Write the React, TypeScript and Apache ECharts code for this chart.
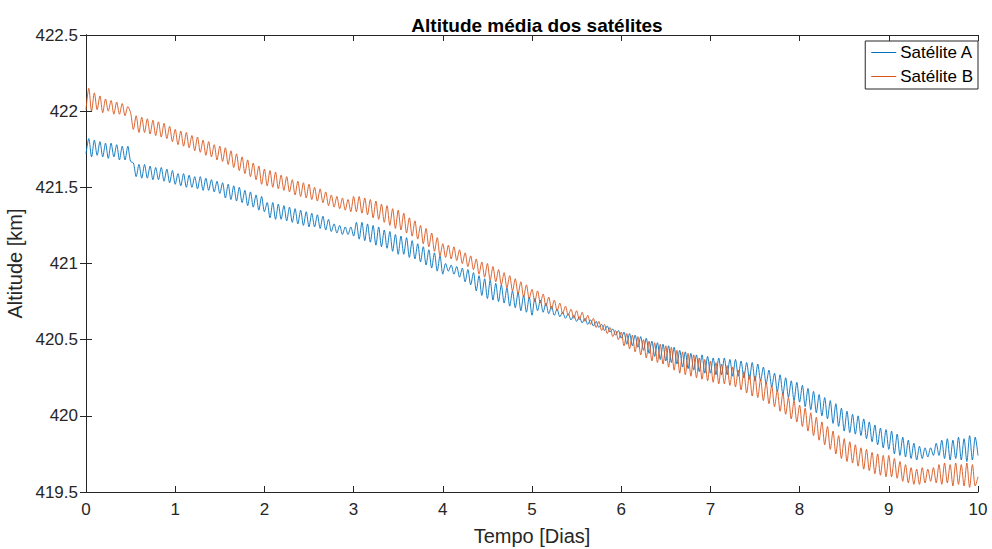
import React, { useEffect, useRef } from "react";
import * as echarts from "echarts";

// Sampling step of the series (days)
const T_STEP = 1 / 32;

const xTicks = [0, 1, 2, 3, 4, 5, 6, 7, 8, 9, 10];
const yTicks = [419.5, 420, 420.5, 421, 421.5, 422, 422.5];

// Satélite A, rows of half a day
const satA: number[] = [
  421.72, 421.82, 421.70, 421.81, 421.71, 421.80, 421.70, 421.79, 421.69, 421.79, 421.70, 421.78, 421.68, 421.77, 421.68, 421.77,
  421.67, 421.66, 421.57, 421.65, 421.56, 421.65, 421.56, 421.64, 421.55, 421.63, 421.55, 421.63, 421.54, 421.62, 421.53, 421.61,
  421.52, 421.59, 421.51, 421.59, 421.50, 421.58, 421.50, 421.57, 421.49, 421.57, 421.48, 421.56, 421.48, 421.55, 421.47, 421.54,
  421.46, 421.53, 421.43, 421.52, 421.42, 421.51, 421.41, 421.50, 421.40, 421.48, 421.38, 421.47, 421.37, 421.45, 421.35, 421.44,
  421.34, 421.40, 421.30, 421.40, 421.29, 421.39, 421.29, 421.38, 421.28, 421.37, 421.27, 421.36, 421.26, 421.35, 421.25, 421.34,
  421.24, 421.33, 421.24, 421.32, 421.23, 421.31, 421.22, 421.29, 421.21, 421.26, 421.20, 421.25, 421.19, 421.24, 421.19, 421.24,
  421.18, 421.27, 421.16, 421.27, 421.15, 421.26, 421.14, 421.25, 421.12, 421.24, 421.11, 421.22, 421.10, 421.21, 421.08, 421.19,
  421.06, 421.18, 421.06, 421.17, 421.04, 421.15, 421.03, 421.13, 421.01, 421.11, 420.99, 421.09, 420.97, 421.07, 420.95, 421.05,
  420.93, 421.00, 420.95, 420.99, 420.93, 420.98, 420.91, 420.97, 420.88, 420.96, 420.86, 420.94, 420.82, 420.92, 420.79, 420.90,
  420.77, 420.89, 420.76, 420.87, 420.75, 420.86, 420.74, 420.84, 420.72, 420.82, 420.71, 420.81, 420.69, 420.79, 420.68, 420.78,
  420.66, 420.77, 420.69, 420.76, 420.68, 420.74, 420.67, 420.72, 420.66, 420.70, 420.65, 420.68, 420.64, 420.67, 420.63, 420.66,
  420.62, 420.65, 420.61, 420.64, 420.60, 420.63, 420.59, 420.62, 420.58, 420.60, 420.56, 420.59, 420.55, 420.57, 420.53, 420.56,
  420.51, 420.55, 420.47, 420.54, 420.46, 420.53, 420.45, 420.52, 420.43, 420.51, 420.41, 420.49, 420.39, 420.48, 420.37, 420.47,
  420.36, 420.46, 420.35, 420.45, 420.34, 420.43, 420.32, 420.42, 420.31, 420.41, 420.30, 420.40, 420.29, 420.40, 420.28, 420.39,
  420.28, 420.38, 420.27, 420.38, 420.27, 420.38, 420.27, 420.37, 420.26, 420.37, 420.26, 420.36, 420.25, 420.35, 420.24, 420.35,
  420.23, 420.34, 420.23, 420.32, 420.21, 420.30, 420.19, 420.28, 420.16, 420.27, 420.14, 420.25, 420.12, 420.23, 420.10, 420.22,
  420.09, 420.20, 420.06, 420.18, 420.04, 420.16, 420.02, 420.14, 420.00, 420.12, 419.98, 420.10, 419.95, 420.08, 419.93, 420.05,
  419.90, 420.03, 419.89, 420.01, 419.88, 420.00, 419.87, 419.98, 419.85, 419.96, 419.83, 419.94, 419.81, 419.92, 419.79, 419.91,
  419.78, 419.90, 419.75, 419.88, 419.74, 419.86, 419.73, 419.84, 419.72, 419.82, 419.71, 419.80, 419.72, 419.79, 419.73, 419.79,
  419.74, 419.82, 419.74, 419.84, 419.72, 419.85, 419.71, 419.84, 419.72, 419.86, 419.71, 419.85, 419.70, 419.87, 419.71, 419.86,
  419.74,
];

// Satélite B, rows of half a day
const satB: number[] = [
  422.01, 422.15, 422.00, 422.12, 422.01, 422.10, 421.99, 422.08, 422.00, 422.07, 421.98, 422.06, 421.98, 422.05, 421.97, 422.03,
  421.99, 421.88, 421.97, 421.86, 421.96, 421.86, 421.95, 421.85, 421.94, 421.84, 421.93, 421.83, 421.92, 421.82, 421.90, 421.80,
  421.88, 421.78, 421.87, 421.77, 421.86, 421.76, 421.84, 421.74, 421.83, 421.73, 421.81, 421.71, 421.80, 421.70, 421.78, 421.68,
  421.77, 421.67, 421.76, 421.65, 421.74, 421.63, 421.72, 421.61, 421.70, 421.59, 421.68, 421.57, 421.66, 421.55, 421.64, 421.52,
  421.62, 421.51, 421.61, 421.50, 421.60, 421.49, 421.58, 421.48, 421.57, 421.47, 421.55, 421.45, 421.54, 421.44, 421.53, 421.43,
  421.52, 421.42, 421.50, 421.41, 421.49, 421.40, 421.47, 421.38, 421.45, 421.37, 421.44, 421.36, 421.43, 421.35, 421.42, 421.34,
  421.44, 421.34, 421.44, 421.33, 421.43, 421.32, 421.42, 421.30, 421.41, 421.29, 421.39, 421.27, 421.38, 421.25, 421.36, 421.23,
  421.35, 421.22, 421.33, 421.20, 421.30, 421.18, 421.28, 421.16, 421.25, 421.13, 421.23, 421.11, 421.20, 421.08, 421.17, 421.05,
  421.13, 421.04, 421.12, 421.03, 421.11, 421.02, 421.09, 421.00, 421.07, 420.98, 421.05, 420.96, 421.03, 420.93, 421.01, 420.91,
  421.00, 420.89, 420.98, 420.88, 420.96, 420.86, 420.94, 420.84, 420.92, 420.82, 420.90, 420.80, 420.88, 420.78, 420.86, 420.77,
  420.83, 420.75, 420.82, 420.74, 420.80, 420.72, 420.78, 420.70, 420.76, 420.69, 420.74, 420.67, 420.72, 420.66, 420.70, 420.64,
  420.69, 420.63, 420.68, 420.62, 420.66, 420.60, 420.64, 420.58, 420.62, 420.56, 420.60, 420.54, 420.58, 420.52, 420.56, 420.50,
  420.55, 420.46, 420.54, 420.44, 420.53, 420.42, 420.52, 420.40, 420.50, 420.38, 420.49, 420.36, 420.48, 420.35, 420.47, 420.34,
  420.46, 420.32, 420.45, 420.30, 420.43, 420.28, 420.42, 420.27, 420.41, 420.26, 420.40, 420.25, 420.38, 420.24, 420.37, 420.23,
  420.36, 420.22, 420.35, 420.21, 420.34, 420.21, 420.33, 420.20, 420.32, 420.19, 420.30, 420.17, 420.29, 420.15, 420.27, 420.13,
  420.26, 420.12, 420.24, 420.10, 420.22, 420.08, 420.20, 420.06, 420.17, 420.03, 420.15, 420.01, 420.12, 419.98, 420.10, 419.96,
  420.07, 419.93, 420.05, 419.90, 420.02, 419.87, 419.99, 419.84, 419.96, 419.81, 419.93, 419.78, 419.90, 419.75, 419.87, 419.72,
  419.85, 419.70, 419.83, 419.69, 419.81, 419.67, 419.79, 419.65, 419.78, 419.64, 419.76, 419.62, 419.75, 419.61, 419.74, 419.60,
  419.74, 419.60, 419.72, 419.59, 419.70, 419.57, 419.68, 419.56, 419.66, 419.55, 419.65, 419.55, 419.66, 419.56, 419.65, 419.57,
  419.66, 419.56, 419.68, 419.55, 419.69, 419.56, 419.68, 419.54, 419.69, 419.55, 419.68, 419.54, 419.69, 419.53, 419.68, 419.54,
  419.60,
];

const FONT = "'Liberation Sans', Arial, Helvetica, sans-serif";
const AXIS_COLOR = "#262626";
const BOX_COLOR = "#262626";

export default function App() {
  const ref = useRef<HTMLDivElement>(null);

  useEffect(() => {
    if (!ref.current) return;
    const chart = echarts.init(ref.current, undefined, { renderer: "svg" });
    const toPairs = (arr: number[]) => arr.map((v, i) => [i * T_STEP, v]);

    const axisCommon = {
      axisLine: { show: true, lineStyle: { color: BOX_COLOR, width: 1 } },
      axisTick: { show: true, inside: true, length: 6, lineStyle: { color: BOX_COLOR } },
      splitLine: { show: false },
    };

    chart.setOption({
      animation: false,
      backgroundColor: "#ffffff",
      title: {
        text: "Altitude média dos satélites",
        left: 532,
        textAlign: "center",
        top: 11,
        textStyle: { fontFamily: FONT, fontSize: 19, fontWeight: "bold", color: "#000" },
      },
      legend: {
        right: 14,
        top: 41,
        orient: "vertical",
        itemWidth: 25,
        itemHeight: 1,
        itemGap: 7,
        icon: "rect",
        padding: [3, 5, 4, 6],
        backgroundColor: "#ffffff",
        borderColor: "#262626",
        borderWidth: 1,
        borderRadius: 0,
        textStyle: { fontFamily: FONT, fontSize: 17, color: "#000", padding: [0, 0, 0, -1] },
        data: ["Satélite A", "Satélite B"],
      },
      grid: { left: 86, right: 14, top: 35, bottom: 57, containLabel: false, outerBoundsMode: "none" },
      xAxis: [
        {
          type: "value",
          min: 0,
          max: 10,
          interval: 1,
          name: "Tempo [Dias]",
          nameLocation: "middle",
          nameGap: 34,
          nameTextStyle: { fontFamily: FONT, fontSize: 20, color: AXIS_COLOR },
          axisLabel: {
            fontFamily: FONT,
            fontSize: 17,
            color: AXIS_COLOR,
            margin: 9,
            formatter: (v: number) => (xTicks.includes(v) ? String(v) : ""),
          },
          ...axisCommon,
        },
        {
          type: "value",
          position: "top",
          min: 0,
          max: 10,
          interval: 1,
          axisLabel: { show: false },
          ...axisCommon,
        },
      ],
      yAxis: [
        {
          type: "value",
          min: 419.5,
          max: 422.5,
          interval: 0.5,
          name: "Altitude [km]",
          nameLocation: "middle",
          nameGap: 49,
          nameTextStyle: { fontFamily: FONT, fontSize: 20, color: AXIS_COLOR },
          axisLabel: {
            fontFamily: FONT,
            fontSize: 17,
            color: AXIS_COLOR,
            margin: 8,
            formatter: (v: number) => (yTicks.includes(v) ? String(v) : ""),
          },
          ...axisCommon,
        },
        {
          type: "value",
          position: "right",
          min: 419.5,
          max: 422.5,
          interval: 0.5,
          axisLabel: { show: false },
          ...axisCommon,
        },
      ],
      series: [
        {
          name: "Satélite A",
          type: "line",
          data: toPairs(satA),
          showSymbol: false,
          symbol: "none",
          smooth: 0.3,
          lineStyle: { color: "#0072BD", width: 0.9 },
          itemStyle: { color: "#0072BD" },
        },
        {
          name: "Satélite B",
          type: "line",
          data: toPairs(satB),
          showSymbol: false,
          symbol: "none",
          smooth: 0.3,
          lineStyle: { color: "#D95319", width: 0.9 },
          itemStyle: { color: "#D95319" },
        },
      ],
    });
    return () => chart.dispose();
  }, []);

  return <div ref={ref} style={{ width: 992, height: 549, position: "absolute", left: 0, top: 0 }} />;
}
